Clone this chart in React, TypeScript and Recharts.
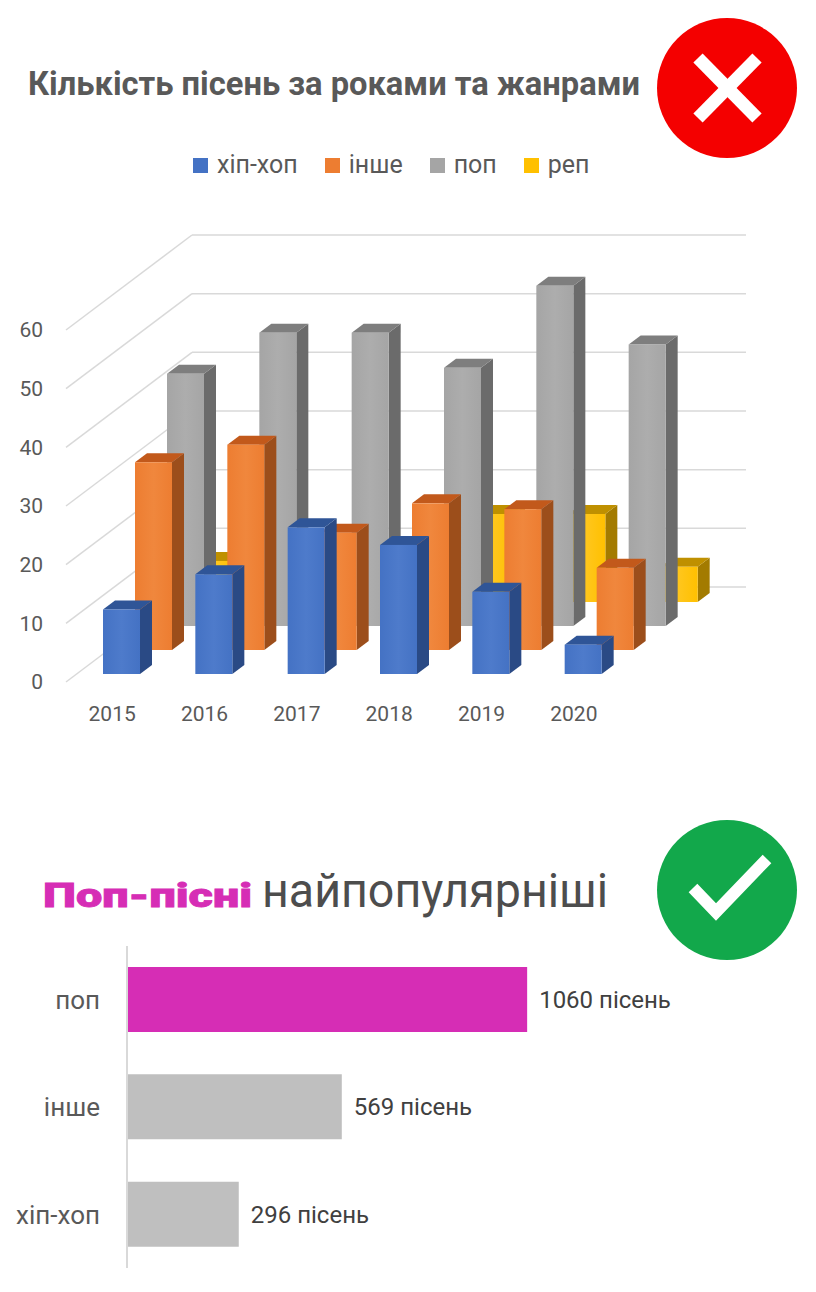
import * as React from "react";
import {
  BarChart,
  Bar,
  XAxis,
  YAxis,
  CartesianGrid,
  Cell,
  LabelList,
} from "recharts";

// верхній (поганий) графік: пісні за роками та жанрами
const years = ["2015", "2016", "2017", "2018", "2019", "2020"];
const hipHop = [11, 17, 25, 22, 14, 5];
const other = [32, 35, 20, 25, 24, 14];
const pop = [43, 50, 50, 44, 58, 48];
const rap = [7, 8, 6, 15, 15, 6];
const yTicks = [0, 10, 20, 30, 40, 50, 60];

// нижній (добрий) графік: всього пісень за жанрами
const genres = ["поп", "інше", "хіп-хоп"];
const totals = [1060, 569, 296];

const series = [
  { key: "hipHop", name: "хіп-хоп", axis: "front", row: 0, front: "#4472C4", mid: "#4E7BCB", top: "#2F5597", side: "#2A4A85" },
  { key: "other", name: "інше", axis: "r1", row: 1, front: "#ED7D31", mid: "#F0873D", top: "#C2591B", side: "#9C4E1B" },
  { key: "pop", name: "поп", axis: "r2", row: 2, front: "#A5A5A5", mid: "#ADADAD", top: "#7E7E7E", side: "#6B6B6B" },
  { key: "rap", name: "реп", axis: "r3", row: 3, front: "#FFC000", mid: "#FFC61C", top: "#BF9000", side: "#A37B00" },
];

const yearData = years.map((year, i) => ({
  year,
  hipHop: hipHop[i],
  other: other[i],
  pop: pop[i],
  rap: rap[i],
}));

const genreData = genres.map((genre, i) => ({ genre, songs: totals[i] }));

// глибина "3D"
const ROW_DX = 32;
const ROW_DY = 24;
const BOX_DX = 12;
const BOX_DY = 9;
const WALL_DX = 126;
const WALL_DY = 95;

function Box3D(props: any) {
  const { x, y, width, height, row, tone } = props;
  if (!height || height <= 0) return null;
  const left = x + 9 + row * ROW_DX;
  const top = y - (8 + row * ROW_DY);
  const right = left + width;
  const bottom = top + height;
  return (
    <g>
      <polygon
        points={`${right},${top} ${right + BOX_DX},${top - BOX_DY} ${right + BOX_DX},${bottom - BOX_DY} ${right},${bottom}`}
        fill={tone.side}
      />
      <polygon
        points={`${left},${top} ${right},${top} ${right + BOX_DX},${top - BOX_DY} ${left + BOX_DX},${top - BOX_DY}`}
        fill={tone.top}
      />
      <rect x={left} y={top} width={width} height={height} fill={`url(#face-${tone.key})`} />
    </g>
  );
}

function WallLine(props: any) {
  const { x1, x2, y1 } = props;
  return (
    <g key={props.key ?? props.index}>
      <line x1={x1} y1={y1} x2={x1 + WALL_DX} y2={y1 - WALL_DY} stroke="#D9D9D9" strokeWidth={1.5} />
      <line x1={x1 + WALL_DX} y1={y1 - WALL_DY} x2={x2 + WALL_DX} y2={y1 - WALL_DY} stroke="#D9D9D9" strokeWidth={1.5} />
    </g>
  );
}

function Legend3D() {
  return (
    <div
      style={{
        position: "absolute",
        top: 150,
        left: 193,
        display: "flex",
        alignItems: "center",
        fontFamily: "Roboto",
        fontSize: 25,
        color: "#595959",
        lineHeight: "30px",
      }}
    >
      {series.map((s) => (
        <div key={s.key} style={{ display: "flex", alignItems: "center", marginRight: 27 }}>
          <span style={{ width: 15, height: 15, background: s.front, marginRight: 9, display: "inline-block" }} />
          <span>{s.name}</span>
        </div>
      ))}
    </div>
  );
}

export default function App() {
  return (
    <div
      style={{
        position: "absolute",
        left: 0,
        top: 0,
        width: 816,
        height: 1292,
        background: "#fff",
        fontFamily: "Roboto",
        overflow: "hidden",
      }}
    >
      <svg width={816} height={1292} style={{ position: "absolute", left: 0, top: 0 }}>
        <text x={28} y={95} fontSize={33} fontWeight={700} fill="#595959" textLength={612} lengthAdjust="spacingAndGlyphs">
          Кількість пісень за роками та жанрами
        </text>
        <circle cx={727} cy={88} r={70} fill="#F40000" />
        <line x1={698} y1={58} x2={757} y2={118} stroke="#fff" strokeWidth={13} />
        <line x1={757} y1={58} x2={698} y2={118} stroke="#fff" strokeWidth={13} />

        <text
          x={43}
          y={907}
          fontSize={33}
          fontWeight={900}
          fill="#D62DB5"
          stroke="#D62DB5"
          strokeWidth={0.8}
          textLength={209}
          lengthAdjust="spacingAndGlyphs"
        >
          Поп-пісні
        </text>
        <text x={262} y={907} fontSize={48} fontWeight={400} fill="#4D4D4D" textLength={346} lengthAdjust="spacingAndGlyphs">
          найпопулярніші
        </text>
        <circle cx={727} cy={890} r={70} fill="#12A84B" />
        <polyline points="693,888 716,912 767,859" fill="none" stroke="#fff" strokeWidth={12} />
      </svg>

      <Legend3D />

      <div style={{ position: "absolute", left: 0, top: 0 }}>
        <BarChart width={816} height={760} data={yearData} margin={{ top: 330, right: 196, bottom: 38, left: 0 }}>
          <defs>
            {series.map((s) => (
              <linearGradient key={s.key} id={`face-${s.key}`} x1="0" y1="0" x2="1" y2="0">
                <stop offset="0%" stopColor={s.front} />
                <stop offset="50%" stopColor={s.mid} />
                <stop offset="100%" stopColor={s.front} />
              </linearGradient>
            ))}
          </defs>
          <CartesianGrid xAxisId="front" vertical={false} horizontal={WallLine} />
          <XAxis
            xAxisId="front"
            dataKey="year"
            height={40}
            interval={0}
            tickLine={false}
            axisLine={false}
            tickSize={8}
            tickMargin={16}
            tick={{ fontSize: 21, fill: "#595959" }}
          />
          <XAxis xAxisId="r1" dataKey="year" hide />
          <XAxis xAxisId="r2" dataKey="year" hide />
          <XAxis xAxisId="r3" dataKey="year" hide />
          <YAxis
            domain={[0, 60]}
            ticks={yTicks}
            width={66}
            tickLine={false}
            axisLine={false}
            tickSize={8}
            tickMargin={15}
            tick={{ fontSize: 21, fill: "#595959" }}
          />
          {[...series].reverse().map((s) => (
            <Bar
              key={s.key}
              xAxisId={s.axis}
              dataKey={s.key}
              name={s.name}
              barSize={37}
              isAnimationActive={false}
              shape={(p: any) => <Box3D {...p} row={s.row} tone={s} />}
            />
          ))}
        </BarChart>
      </div>

      <div style={{ position: "absolute", left: 0, top: 930 }}>
        <BarChart
          layout="vertical"
          width={816}
          height={362}
          data={genreData}
          margin={{ top: 16, right: 85, bottom: 24, left: 0 }}
        >
          <XAxis type="number" domain={[0, 1600]} hide />
          <YAxis
            type="category"
            dataKey="genre"
            width={127}
            tickLine={false}
            axisLine={{ stroke: "#D9D9D9", strokeWidth: 2 }}
            tickSize={6}
            tickMargin={21}
            tick={{ fontSize: 26, fill: "#595959" }}
          />
          <Bar dataKey="songs" barSize={65} isAnimationActive={false}>
            {genreData.map((d, i) => (
              <Cell key={d.genre} fill={i === 0 ? "#D62DB5" : "#BFBFBF"} />
            ))}
            <LabelList
              dataKey="songs"
              position="right"
              offset={12}
              formatter={(v: any) => `${v} пісень`}
              fill="#404040"
              fontSize={24}
            />
          </Bar>
        </BarChart>
      </div>
    </div>
  );
}
